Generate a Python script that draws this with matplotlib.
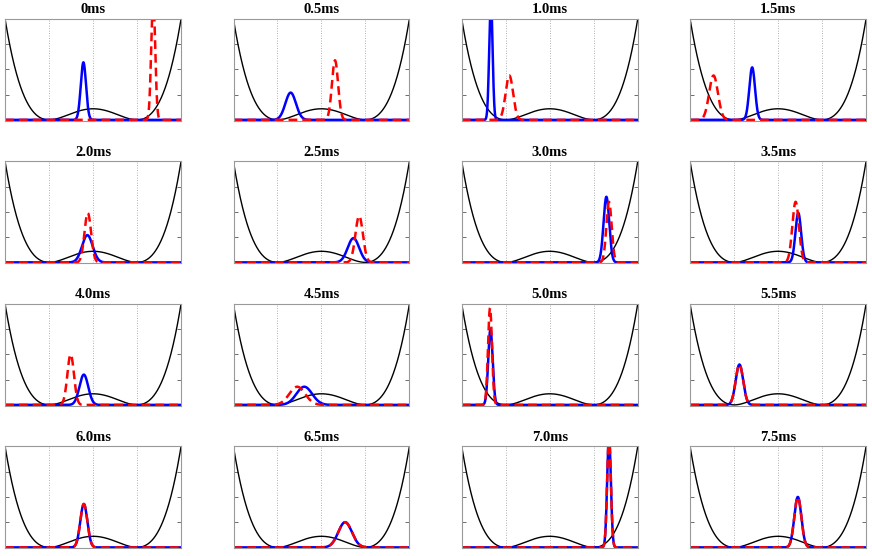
import matplotlib
matplotlib.use('Agg')
import matplotlib.pyplot as plt
import numpy as np

# snapshot times (titles)
times = ['0ms', '0.5ms', '1.0ms', '1.5ms', '2.0ms', '2.5ms', '3.0ms', '3.5ms',
         '4.0ms', '4.5ms', '5.0ms', '5.5ms', '6.0ms', '6.5ms', '7.0ms', '7.5ms']

# blue (solid) packet: centre, peak height, width
blue_center = [-0.22, -0.70, -1.34, -0.59, -0.13, 0.73, 1.29, 0.46,
               -0.21, -0.39, -1.35, -0.88, -0.21, 0.54, 1.35, 0.45]
blue_height = [0.57, 0.27, 1.20, 0.52, 0.27, 0.24, 0.65, 0.49,
               0.30, 0.18, 0.75, 0.40, 0.43, 0.25, 1.10, 0.50]
blue_width = [0.06, 0.12, 0.038, 0.065, 0.12, 0.13, 0.065, 0.065,
              0.10, 0.18, 0.05, 0.085, 0.08, 0.155, 0.042, 0.08]

# red (dashed) packet
red_center = [1.37, 0.31, -0.92, -1.47, -0.12, 0.86, 1.35, 0.40,
              -0.51, -0.55, -1.36, -0.88, -0.21, 0.54, 1.35, 0.45]
red_height = [1.20, 0.59, 0.44, 0.44, 0.49, 0.46, 0.60, 0.60,
              0.50, 0.18, 0.96, 0.40, 0.43, 0.25, 1.10, 0.50]
red_width = [0.045, 0.07, 0.085, 0.10, 0.075, 0.085, 0.06, 0.075,
             0.075, 0.18, 0.045, 0.085, 0.08, 0.155, 0.042, 0.08]

# double well potential scale
well_depth = 0.11

x = np.linspace(-2, 2, 800)
pot = well_depth * (x**2 - 1)**2

fig, axes = plt.subplots(4, 4, figsize=(8.72, 5.56), dpi=100)
fig.subplots_adjust(left=0.006, right=0.993, top=0.966, bottom=0.014,
                    wspace=0.30, hspace=0.40)

for i, ax in enumerate(axes.flat):
    blue = blue_height[i] * np.exp(-(x - blue_center[i])**2 / (2 * blue_width[i]**2))
    red = red_height[i] * np.exp(-(x - red_center[i])**2 / (2 * red_width[i]**2))

    for g in [-1, 0, 1]:
        ax.axvline(g, color='#999999', linestyle=(0, (1, 2)), linewidth=0.6, zorder=0)
    ax.plot(x, pot, color='black', linewidth=1.0)
    ax.plot(x, blue, color='#0000ff', linewidth=1.8)
    ax.plot(x, red, color='#ff0000', linewidth=1.8, dashes=(3.5, 2))

    ax.set_xlim(-2, 2)
    ax.set_ylim(-0.008, 1.0)
    ax.set_xticks([])
    ax.set_yticks([0.25, 0.5, 0.75])
    ax.set_yticklabels([])
    ax.tick_params(axis='y', direction='in', length=3, width=0.6,
                   color='#555555', left=True, right=True)
    for s in ax.spines.values():
        s.set_color('#999999')
        s.set_linewidth(0.8)
    ax.set_title(times[i], fontsize=10.5, fontweight='bold',
                 family='Liberation Serif', pad=4)

fig.savefig('out.png', dpi=100)
